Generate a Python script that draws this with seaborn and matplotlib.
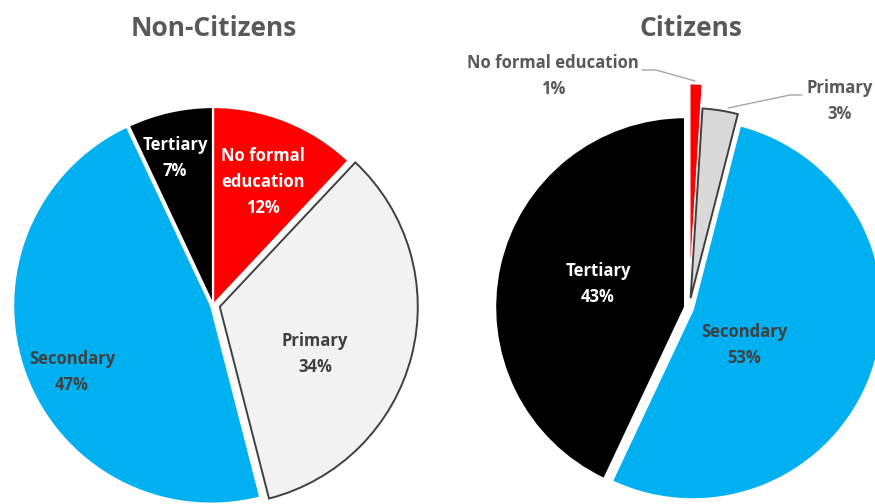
import matplotlib
matplotlib.use("Agg")
import matplotlib.pyplot as plt
import seaborn as sns

# Education attainment shares (%)
categories = ["No formal education", "Primary", "Secondary", "Tertiary"]
non_citizens = [12, 34, 47, 7]
citizens = [1, 3, 53, 43]

sns.set_theme(style="white")
plt.rcParams["font.family"] = ["Open Sans", "DejaVu Sans"]

W, H = 875, 504
fig = plt.figure(figsize=(W / 100, H / 100), dpi=100)
ax = fig.add_axes([0, 0, 1, 1])

RED, BLUE, BLACK = "#FF0000", "#00B0F0", "#000000"
TITLE_C, DARK_C, LABEL_C, LEADER_C = "#595959", "#404040", "#595959", "#A6A6A6"


def py(y):
    """Convert a top-down pixel row into the axis' y coordinate."""
    return H - y


def draw_pie(values, center, radius, colors, explode, edge_styles):
    wedges, _ = ax.pie(
        values, colors=colors, explode=explode, startangle=90,
        counterclock=False, center=center, radius=radius,
        wedgeprops=dict(linewidth=1.6, edgecolor="white"),
    )
    for w, (ec, lw) in zip(wedges, edge_styles):
        w.set_edgecolor(ec)
        w.set_linewidth(lw)
    return wedges


# Non-Citizens pie
draw_pie(
    non_citizens, center=(213, py(305)), radius=198,
    colors=[RED, "#F2F2F2", BLUE, BLACK],
    explode=[0.0, 7, 2, 0.0],
    edge_styles=[("white", 1.6), (DARK_C, 1.4), ("white", 1.6), ("white", 1.6)],
)

# Citizens pie
draw_pie(
    citizens, center=(689, py(308)), radius=190,
    colors=[RED, "#D9D9D9", BLUE, BLACK],
    explode=[34, 10, 4, 4],
    edge_styles=[("white", 0.6), (DARK_C, 1.4), ("white", 1.6), ("white", 1.6)],
)

ax.set_xlim(0, W)
ax.set_ylim(0, H)
ax.set_aspect("equal")
ax.axis("off")

# Titles
ax.text(214, py(29), "Non-Citizens", ha="center", va="center",
        fontsize=19, fontweight="bold", color=TITLE_C)
ax.text(691, py(29), "Citizens", ha="center", va="center",
        fontsize=19, fontweight="bold", color=TITLE_C)

lab = dict(ha="center", va="center", fontsize=12, fontweight="bold",
           linespacing=1.55)

# Non-Citizens slice labels
ax.text(263, py(182), f"No formal\neducation\n{non_citizens[0]}%", color="white", **lab)
ax.text(315, py(354), f"{categories[1]}\n{non_citizens[1]}%", color=DARK_C, **lab)
ax.text(72, py(372), f"{categories[2]}\n{non_citizens[2]}%", color=DARK_C, **lab)
ax.text(175, py(158), f"{categories[3]}\n{non_citizens[3]}%", color="white", **lab)

# Citizens slice labels
ax.text(553, py(76), f"{categories[0]}\n{citizens[0]}%", color=LABEL_C, **lab)
ax.text(840, py(101), f"{categories[1]}\n{citizens[1]}%", color=LABEL_C, **lab)
ax.text(744, py(345), f"{categories[2]}\n{citizens[2]}%", color=DARK_C, **lab)
ax.text(598, py(284), f"{categories[3]}\n{citizens[3]}%", color="white", **lab)

# Leader lines for the small Citizens slices
ax.plot([642, 656, 695], [py(70), py(70), py(81)], color=LEADER_C, lw=1.0)
ax.plot([802, 790, 728], [py(95), py(95), py(108)], color=LEADER_C, lw=1.0)

fig.savefig("out.png", dpi=100)
